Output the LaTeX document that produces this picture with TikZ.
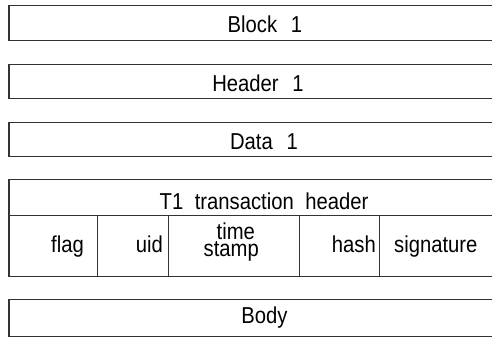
\documentclass[tikz,border=0pt]{standalone}
\usepackage{fontspec}
\newfontfamily\cfont[FakeStretch=0.88]{Liberation Sans}
\begin{document}
\begin{tikzpicture}[x=1pt,y=-1pt,
  box/.style={draw=black!80, line width=1pt, minimum width=512pt, inner sep=0pt, anchor=north west, text=black},
  lbl/.style={font=\cfont\fontsize{23}{25}\selectfont, inner sep=0pt, text=black, anchor=base},
  edge/.style={draw=black!80, line width=1pt}]
\useasboundingbox (0,0) rectangle (492,339);
\clip (0,0) rectangle (492,339);
\node[box, minimum height=35pt] (b1) at (8,5) {};
\node[lbl] (tb1) at (265,32.5) {Block\hspace{0.6em}1};
\node[box, minimum height=34pt] (h1) at (8,64) {};
\node[lbl] (th1) at (258,92) {Header\hspace{0.6em}1};
\node[box, minimum height=34pt] (d1) at (8,122) {};
\node[lbl] (td1) at (264,150) {Data\hspace{0.6em}1};
\node[box, minimum height=97pt] (tt) at (8,179) {};
\node[lbl] (ttt) at (264,209) {T1\hspace{0.5em}transaction\hspace{0.5em}header};
\coordinate (hl) at (8,215);
\coordinate (hr) at (520,215);
\draw[edge] (hl) -- (hr);
\coordinate (v1t) at (97,215); \coordinate (v1b) at (97,276);
\coordinate (v2t) at (168,215); \coordinate (v2b) at (168,276);
\coordinate (v3t) at (299,215); \coordinate (v3b) at (299,276);
\coordinate (v4t) at (379,215); \coordinate (v4b) at (379,276);
\draw[edge] (v1t) -- (v1b) (v2t) -- (v2b) (v3t) -- (v3b) (v4t) -- (v4b);
\node[lbl, anchor=base east] (flag) at (84,252) {flag};
\node[lbl, anchor=base east] (uid) at (163,252) {uid};
\node[lbl, anchor=north west, align=left, font=\cfont\fontsize{23}{17}\selectfont] (ts) at (203.5,222.5) {\hspace*{13pt}time\\stamp};
\node[lbl, anchor=base east] (hash) at (376,252) {hash};
\node[lbl, anchor=base west] (sig) at (394,252) {signature};
\node[box, minimum height=37pt] (body) at (8,299) {};
\node[lbl] (tbody) at (264.5,323.5) {Body};
\draw[edge, line width=2pt] ([xshift=0.5pt]b1.north west) -- ([xshift=0.5pt]b1.south west);
\draw[edge, line width=2pt] ([xshift=0.5pt]h1.north west) -- ([xshift=0.5pt]h1.south west);
\draw[edge, line width=2pt] ([xshift=0.5pt]d1.north west) -- ([xshift=0.5pt]d1.south west);
\draw[edge, line width=2pt] ([xshift=0.5pt]tt.north west) -- ([xshift=0.5pt]tt.south west);
\draw[edge, line width=2pt] ([xshift=0.5pt]body.north west) -- ([xshift=0.5pt]body.south west);
\end{tikzpicture}
\end{document}
